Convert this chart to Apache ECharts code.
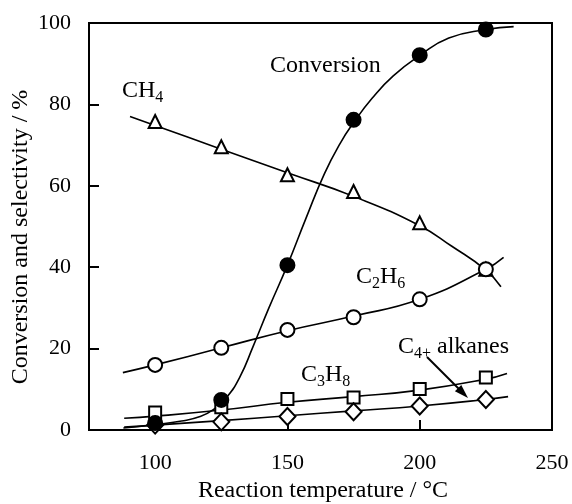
<!DOCTYPE html>
<html><head><meta charset="utf-8">
<script src="https://cdn.jsdelivr.net/npm/echarts@6/dist/echarts.min.js"></script>
<style>html,body{margin:0;padding:0;background:#fff}#c{width:572px;height:504px}</style>
</head><body><div id="c"></div>
<script>
// ---- data ----
const temps = [100, 125, 150, 175, 200, 225];
const conversion = [1.7, 7.4, 40.5, 76.2, 92.1, 98.4];
const ch4Sel = [75.8, 69.6, 62.7, 58.6, 50.9, 39.5];
const c2h6Sel = [16.0, 20.2, 24.6, 27.7, 32.1, 39.5];
const c3h8Sel = [4.3, 5.6, 7.6, 8.0, 10.1, 12.9];
const c4Sel = [1.2, 2.0, 3.3, 4.5, 5.9, 7.5];

// fitted curves [temperature, %]
const convCurve = [[88,0.5],[100,1.3],[110,2.2],[117,3.3],[122,5],[127,8],[132,13],[137,20.5],[143,30],[150,40.5],[157,52],[164,63],[170,70.5],[175,75.5],[182,81.5],[190,87],[200,92],[211,96.3],[225,98.4],[235.5,99.1]];
const ch4Curve = [[90.5,77],[100,74.8],[125,69],[150,63.2],[175,57.4],[200,50.2],[212,45.2],[225,39.3],[230.7,35.2]];
const c2h6Curve = [[87.8,14.1],[100,16],[125,20.2],[150,24.4],[175,28],[200,32.1],[225,39.5],[231.7,42.4]];
const c3h8Curve = [[88.3,2.9],[100,3.4],[125,4.9],[150,6.8],[175,8.2],[200,9.8],[225,12.5],[233,13.9]];
const c4Curve = [[88.3,0.7],[100,1.2],[125,2.3],[150,3.5],[175,4.7],[200,5.9],[225,7.5],[233.4,8.2]];

const xTickValues = [100, 150, 200, 250];
const xName = 'Reaction temperature / °C';
const yName = 'Conversion and selectivity / %';

// ---- chart ----
const FONT = '"Liberation Serif", "Times New Roman", serif';
const pairs = (ys) => temps.map((t, i) => [t, ys[i]]);

const lineSeries = (d) => ({
  type: 'line', data: d, showSymbol: false, smooth: 0.5,
  lineStyle: { color: '#000', width: 1.6 }, silent: true, z: 2
});
const markSeries = (d, symbol, size, filled) => ({
  type: 'scatter', data: d, symbol: symbol, symbolSize: size,
  itemStyle: { color: filled ? '#000' : '#fff', borderColor: '#000', borderWidth: 2, opacity: 1 },
  silent: true, z: filled ? 4 : 3
});

const measure = document.createElement('canvas').getContext('2d');
function textWidth(t, size) { measure.font = size + 'px ' + FONT; return measure.measureText(t).width; }
function labelGroup(x, yMid, parts) {
  const els = [];
  let cx = x;
  parts.forEach(([t, isSub]) => {
    const size = isSub ? 16 : 24;
    els.push({ type: 'text', x: cx, y: yMid + (isSub ? 7 : 0),
      style: { text: t, font: size + 'px ' + FONT, fill: '#000', align: 'left', verticalAlign: 'middle' } });
    cx += textWidth(t, size);
  });
  return els;
}

const graphics = [].concat(
  labelGroup(270, 65.5, [['Conversion', 0]]),
  labelGroup(122, 90.5, [['CH', 0], ['4', 1]]),
  labelGroup(356, 276.5, [['C', 0], ['2', 1], ['H', 0], ['6', 1]]),
  labelGroup(301, 375, [['C', 0], ['3', 1], ['H', 0], ['8', 1]]),
  labelGroup(398, 347, [['C', 0], ['4+', 1], [' alkanes', 0]]),
  [
    { type: 'text', x: 21, y: 237, rotation: Math.PI / 2,
      style: { text: yName, font: '24px ' + FONT, fill: '#000', align: 'center', verticalAlign: 'middle' } },
    { type: 'text', x: 323, y: 491,
      style: { text: xName, font: '24px ' + FONT, fill: '#000', align: 'center', verticalAlign: 'middle' } },
    { type: 'line', shape: { x1: 427, y1: 357, x2: 460, y2: 390 }, style: { stroke: '#000', lineWidth: 2 } },
    { type: 'polygon', shape: { points: [[468, 398], [454.9, 391.3], [461.3, 384.9]] }, style: { fill: '#000' } }
  ]
);

const chart = echarts.init(document.getElementById('c'), null, { renderer: 'canvas' });
chart.setOption({
  animation: false,
  backgroundColor: '#fff',
  textStyle: { fontFamily: FONT },
  grid: { left: 89, right: 20, top: 23, bottom: 74, outerBoundsMode: 'none', containLabel: false,
          show: true, borderColor: '#000', borderWidth: 2, backgroundColor: 'transparent' },
  xAxis: {
    type: 'value', min: 75, max: 250,
    axisLine: { show: true, lineStyle: { color: '#000', width: 2 } },
    axisTick: { show: true, inside: true, length: 10, lineStyle: { color: '#000', width: 2 }, customValues: xTickValues },
    axisLabel: { fontFamily: FONT, fontSize: 22, color: '#000', margin: 22, customValues: xTickValues },
    splitLine: { show: false }
  },
  yAxis: {
    type: 'value', min: 0, max: 100, interval: 20,
    axisLine: { show: true, lineStyle: { color: '#000', width: 2 } },
    axisTick: { show: true, inside: true, length: 10, lineStyle: { color: '#000', width: 2 } },
    axisLabel: { fontFamily: FONT, fontSize: 22, color: '#000', margin: 18 },
    splitLine: { show: false }
  },
  series: [
    lineSeries(ch4Curve), lineSeries(c2h6Curve), lineSeries(c3h8Curve), lineSeries(c4Curve), lineSeries(convCurve),
    markSeries(pairs(ch4Sel), 'triangle', 13, false),
    markSeries(pairs(c2h6Sel), 'circle', 14, false),
    markSeries(pairs(c3h8Sel), 'rect', 12, false),
    markSeries(pairs(c4Sel), 'diamond', [16, 17], false),
    markSeries(pairs(conversion), 'circle', 14, true)
  ],
  graphic: graphics
});
</script></body></html>
